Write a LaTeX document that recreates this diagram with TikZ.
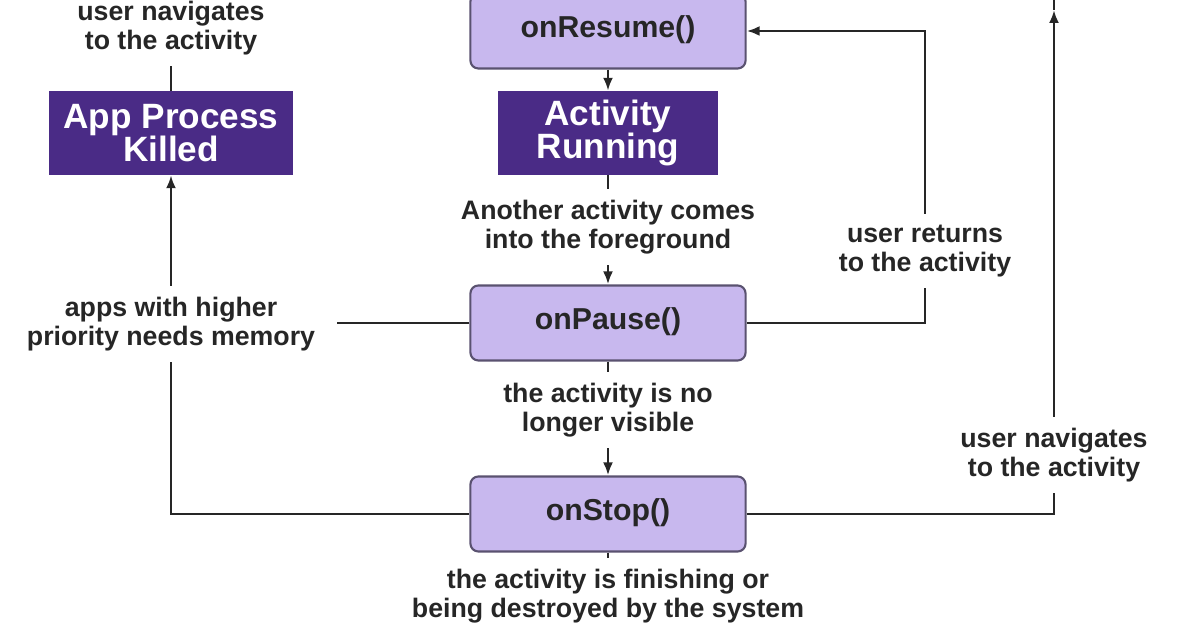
\documentclass[tikz,border=0pt]{standalone}
\usepackage{fontspec}
\setmainfont{Liberation Sans}
\usetikzlibrary{positioning,arrows.meta}
\definecolor{stateviolet}{HTML}{C8B8EE}
\definecolor{stateedge}{HTML}{5A5270}
\definecolor{runpurple}{HTML}{4A2B86}
\definecolor{flowgray}{HTML}{262626}

\begin{document}
\begin{tikzpicture}[
  x=0.01cm, y=-0.01cm,
  callback/.style={draw=stateedge, line width=0.6pt, rounded corners=0.8mm, fill=stateviolet, text=black!85, minimum width=2.75cm, minimum height=0.75cm, text depth=0.5ex, font=\fontsize{8.6}{9}\selectfont\bfseries},
  status/.style={fill=runpurple, text=white, align=center, minimum height=0.83cm, inner sep=1pt, font=\fontsize{10}{9.4}\selectfont\bfseries},
  note/.style={align=center, text=black!85, inner sep=3pt, font=\fontsize{7.6}{8.3}\selectfont\bfseries},
  link/.style={draw=flowgray, line width=0.8pt},
  arrow/.style={link, -{Latex[length=1.3mm,width=1mm]}}
]
\useasboundingbox (0,0) rectangle (1196,628);
\clip (0,0) rectangle (1196,628);
\node[callback] (resume) at (608,31) {onResume()};
\node[status, minimum width=2.2cm] (running) at (608,133) {Activity\\Running};
\node[status, minimum width=2.44cm] (killed) at (171,133) {App Process\\Killed};
\node[note] (navLeft) at (171,28) {user navigates\\to the activity};
\node[note] (foreground) at (608,227) {Another activity comes\\into the foreground};
\node[callback] (pause) at (608,323) {onPause()};
\node[note] (returns) at (925,251) {user returns\\to the activity};
\node[note, inner xsep=6pt] (memory) at (171,324) {apps with higher\\priority needs memory};
\node[note] (hidden) at (608,410) {the activity is no\\longer visible};
\node[callback] (stop) at (608,514) {onStop()};
\node[note] (navRight) at (1054,455) {user navigates\\to the activity};
\node[note] (finish) at (608,596) {the activity is finishing or\\being destroyed by the system};
\coordinate (restart) at (1054,10);
\coordinate (topEdge) at (1054,-10);
\coordinate (bottomEdge) at (608,640);
\draw[link] (navLeft.south) -- (killed.north);
\draw[arrow] (resume.south) -- (running.north);
\draw[link] (running.south) -- (foreground.north);
\draw[arrow] (foreground.south) -- (pause.north);
\draw[link] (pause.east) -| (returns.south);
\draw[arrow] (returns.north) |- (resume.east);
\draw[link] (pause.west) -- (pause.west -| memory.east);
\draw[arrow] (memory.north) -- (killed.south);
\draw[link] (memory.south) |- (stop.west);
\draw[link] (pause.south) -- (hidden.north);
\draw[arrow] (hidden.south) -- (stop.north);
\draw[link] (stop.east) -| (navRight.south);
\draw[arrow] (navRight.north) -- (restart);
\draw[link] (restart) -- (topEdge);
\draw[link] (stop.south) -- (finish.north);
\draw[link] (finish.south) -- (bottomEdge);
\end{tikzpicture}
\end{document}
